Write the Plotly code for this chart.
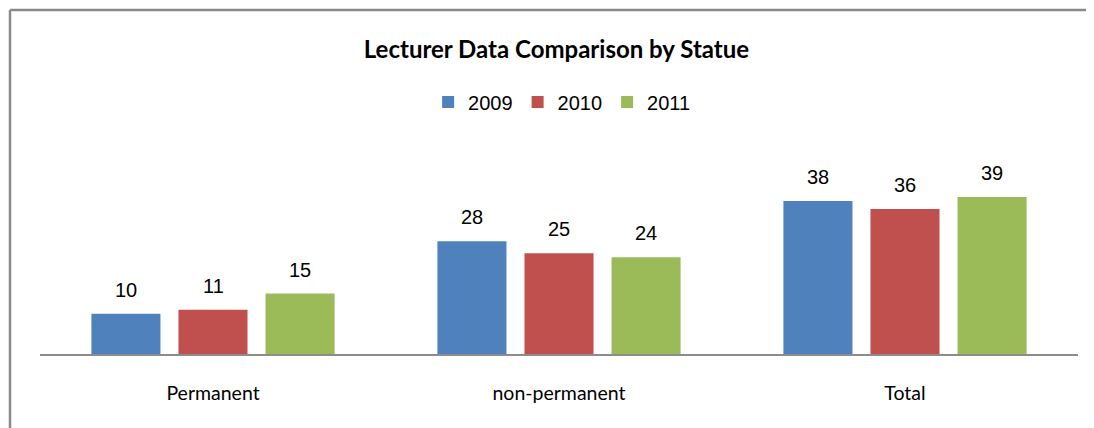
import plotly.graph_objects as go

categories = ["Permanent", "non-permanent", "Total"]
years = ["2009", "2010", "2011"]
values_2009 = [10, 28, 38]
values_2010 = [11, 25, 36]
values_2011 = [15, 24, 39]
series = [values_2009, values_2010, values_2011]
colors = ["#4F81BD", "#C0504D", "#9BBB59"]

BARGAP = 0.245
BARGROUPGAP = 0.207

fig = go.Figure()
for name, vals, col in zip(years, series, colors):
    fig.add_trace(go.Bar(x=categories, y=vals, name=name, marker=dict(color=col, line=dict(width=0))))

# value labels above bars
n = len(series)
slot = (1 - BARGAP) / n
for j, vals in enumerate(series):
    for i, v in enumerate(vals):
        fig.add_annotation(x=i + (j - (n - 1) / 2) * slot, y=v, xref="x", yref="y",
                           text=str(v), showarrow=False, yshift=24,
                           font=dict(family="Liberation Sans, Arial", size=20, color="#000000"))

# chart-area border: only the top and left edges are inside the picture
border = dict(color="#8a8a8a", width=2.5)
fig.add_shape(type="line", xref="paper", yref="paper", x0=-0.0289, x1=1.0154, y0=1.536, y1=1.536,
              line=border, layer="below")
fig.add_shape(type="line", xref="paper", yref="paper", x0=-0.0289, x1=-0.0289, y0=-0.4, y1=1.536,
              line=border, layer="below")

fig.update_layout(
    width=1086, height=420,
    margin=dict(l=32, r=16, t=122, b=74),
    paper_bgcolor="white", plot_bgcolor="white",
    barmode="group", bargap=BARGAP, bargroupgap=BARGROUPGAP,
    title=dict(text="<b>Lecturer Data Comparison by Statue</b>", x=0.505, xanchor="center",
               y=0.902, yanchor="middle",
               font=dict(family="Lato, Open Sans", size=24, color="#000000")),
    legend=dict(orientation="h", x=0.503, xanchor="center", y=1.125, yanchor="middle",
                font=dict(family="Liberation Sans, Arial", size=20, color="#000000"),
                itemwidth=30, tracegroupgap=0, itemsizing="constant"),
    showlegend=True,
    xaxis=dict(showline=True, linecolor="#8c8c8c", linewidth=1.5, ticks="",
               tickfont=dict(family="Lato, Open Sans", size=19.5, color="#000000"),
               ticklabelstandoff=21, showgrid=False, fixedrange=True),
    yaxis=dict(range=[0, 55.6], visible=False, showgrid=False, fixedrange=True),
)

fig.write_html("out.html")
